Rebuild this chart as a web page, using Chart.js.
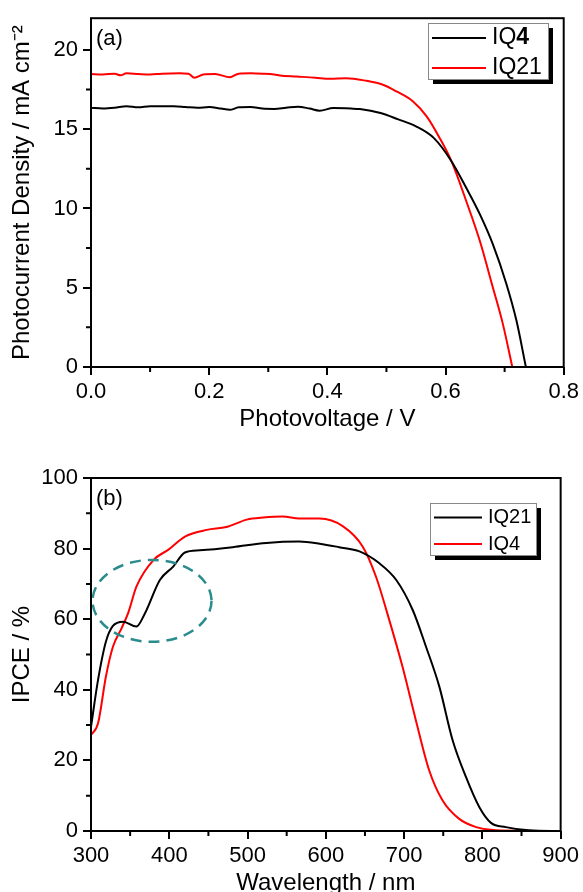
<!DOCTYPE html>
<html>
<head>
<meta charset="utf-8">
<title>IQ4 / IQ21</title>
<script src="https://cdn.jsdelivr.net/npm/chart.js@4.4.1/dist/chart.umd.min.js"></script>
<style>
html, body { margin: 0; padding: 0; background: #fff; overflow: hidden; width: 583px; height: 892px; }
.panel { position: absolute; left: 0; width: 583px; }
#wrapA { top: 0; height: 440px; }
#wrapB { top: 440px; height: 465px; }
</style>
</head>
<body>
<div class="panel" id="wrapA"><canvas id="chartA" width="583" height="440"></canvas></div>
<div class="panel" id="wrapB"><canvas id="chartB" width="583" height="465"></canvas></div>
<script>
// (a) J-V curves
var voltageIQ4 = [0, 0.02, 0.04, 0.06, 0.08, 0.10, 0.12, 0.14, 0.16, 0.18, 0.20, 0.22, 0.235, 0.25, 0.27, 0.29, 0.31, 0.33, 0.35, 0.37, 0.387, 0.41, 0.44, 0.455, 0.49, 0.52, 0.55, 0.58, 0.61, 0.635, 0.658, 0.68, 0.703, 0.72, 0.736];
var currentIQ4 = [16.35, 16.3, 16.35, 16.45, 16.38, 16.45, 16.45, 16.45, 16.4, 16.35, 16.4, 16.3, 16.22, 16.38, 16.4, 16.3, 16.28, 16.35, 16.42, 16.3, 16.17, 16.33, 16.3, 16.27, 16.02, 15.62, 15.18, 14.45, 12.98, 11.3, 9.64, 7.75, 5.24, 2.93, 0];
var voltageIQ21 = [0, 0.02, 0.04, 0.05, 0.06, 0.08, 0.10, 0.12, 0.15, 0.165, 0.175, 0.19, 0.21, 0.235, 0.25, 0.27, 0.29, 0.31, 0.32, 0.348, 0.38, 0.404, 0.432, 0.466, 0.494, 0.517, 0.545, 0.568, 0.59, 0.61, 0.635, 0.658, 0.68, 0.697, 0.713];
var currentIQ21 = [18.48, 18.45, 18.5, 18.4, 18.52, 18.48, 18.45, 18.5, 18.52, 18.5, 18.25, 18.45, 18.48, 18.28, 18.5, 18.52, 18.5, 18.45, 18.38, 18.32, 18.25, 18.18, 18.22, 18.05, 17.8, 17.38, 16.75, 15.81, 14.45, 12.98, 10.47, 7.96, 5.03, 2.72, 0];
var voltTicks = [0, 0.2, 0.4, 0.6, 0.8];
var currentTicks = [0, 5, 10, 15, 20];

// (b) IPCE spectra
var wlIQ21 = [300, 309, 319, 328, 341, 358, 369, 388, 405, 420, 439, 481, 524, 566, 592, 617, 643, 668, 690, 711, 728, 745, 762, 779, 796, 811, 830, 859, 900];
var ipceIQ21 = [29.5, 42.8, 53.6, 58.1, 59.3, 57.9, 61.7, 71.1, 74.9, 78.9, 79.5, 80.4, 81.6, 82.0, 81.4, 80.4, 79.2, 75.9, 71.1, 62.6, 52.2, 40.9, 25.7, 15.3, 6.8, 2.3, 1.1, 0.2, 0];
var wlIQ4 = [300, 309, 319, 328, 339, 348, 358, 380, 399, 420, 448, 473, 499, 520, 545, 566, 592, 622, 647, 664, 681, 698, 715, 732, 749, 770, 792, 817, 900];
var ipceIQ4 = [27.2, 30.5, 43.7, 52.2, 57.4, 62.1, 69.2, 76.8, 79.7, 83.4, 85.3, 86.1, 88.2, 88.8, 89.1, 88.5, 88.5, 86.3, 80.6, 72.1, 59.8, 46.5, 31.4, 17.2, 8.7, 3.5, 1.1, 0.2, 0];
var wlTicks = [300, 400, 500, 600, 700, 800, 900];
var ipceTicks = [0, 20, 40, 60, 80, 100];

var FONT = '"Liberation Sans", Arial, sans-serif';
Chart.defaults.font.family = FONT;
Chart.defaults.color = '#000';

function pts(xs, ys) {
  return xs.map(function (x, i) { return { x: x, y: ys[i] }; });
}

function series(label, xs, ys, color) {
  return {
    label: label, data: pts(xs, ys), borderColor: color, backgroundColor: color,
    borderWidth: 2, pointRadius: 0, fill: false, cubicInterpolationMode: 'monotone'
  };
}

// frame, minor ticks, panel tag, legend box with shadow, dashed ellipse
var decor = {
  id: 'decor',
  afterDatasetsDraw: function (chart, args, o) {
    var ctx = chart.ctx, a = chart.chartArea, sx = chart.scales.x, sy = chart.scales.y;
    ctx.save();
    if (o.ellipse) {
      var e = o.ellipse;
      var cx = sx.getPixelForValue(e.x), cy = sy.getPixelForValue(e.y);
      var rx = sx.getPixelForValue(e.x + e.rx) - cx, ry = cy - sy.getPixelForValue(e.y + e.ry);
      ctx.beginPath();
      ctx.setLineDash([11, 7]);
      ctx.strokeStyle = e.color;
      ctx.lineWidth = 2.5;
      ctx.ellipse(cx, cy, rx, ry, 0, 0, Math.PI * 2);
      ctx.stroke();
      ctx.setLineDash([]);
    }
    ctx.strokeStyle = '#000';
    ctx.lineWidth = 2;
    ctx.strokeRect(a.left, a.top, a.right - a.left, a.bottom - a.top);
    // minor ticks halfway between majors
    ctx.beginPath();
    for (var i = 0; i < sx.ticks.length - 1; i++) {
      var px = sx.getPixelForValue((sx.ticks[i].value + sx.ticks[i + 1].value) / 2);
      ctx.moveTo(px, a.bottom); ctx.lineTo(px, a.bottom + 5);
    }
    for (var j = 0; j < sy.ticks.length - 1; j++) {
      var py = sy.getPixelForValue((sy.ticks[j].value + sy.ticks[j + 1].value) / 2);
      ctx.moveTo(a.left - 5, py); ctx.lineTo(a.left, py);
    }
    ctx.stroke();
    // panel tag
    ctx.fillStyle = '#000';
    ctx.font = '22px ' + FONT;
    ctx.textBaseline = 'alphabetic';
    ctx.textAlign = 'left';
    ctx.fillText(o.tag, a.left + 5, a.top + 27);
    // legend
    var lg = o.legend;
    ctx.fillStyle = '#000';
    ctx.fillRect(lg.x + 5, lg.y + 5, lg.w, lg.h);
    ctx.fillStyle = '#fff';
    ctx.fillRect(lg.x, lg.y, lg.w, lg.h);
    ctx.strokeStyle = '#888';
    ctx.lineWidth = 1;
    ctx.strokeRect(lg.x + 0.5, lg.y + 0.5, lg.w, lg.h);
    chart.data.datasets.forEach(function (ds, k) {
      var y = lg.rows[k];
      ctx.strokeStyle = ds.borderColor;
      ctx.lineWidth = 2;
      ctx.beginPath();
      ctx.moveTo(lg.x + 4, y); ctx.lineTo(lg.x + lg.line, y);
      ctx.stroke();
      var nb = (lg.boldTail && lg.boldTail[k]) || 0;
      var head = ds.label.slice(0, ds.label.length - nb), tail = ds.label.slice(ds.label.length - nb);
      ctx.fillStyle = '#000';
      ctx.textBaseline = 'middle';
      ctx.font = lg.size + 'px ' + FONT;
      ctx.fillText(head, lg.tx, y);
      if (tail) {
        var w = ctx.measureText(head).width;
        ctx.font = 'bold ' + lg.size + 'px ' + FONT;
        ctx.fillText(tail, lg.tx + w, y);
      }
    });
    ctx.restore();
  }
};

function axis(min, max, tickValues, fmt, title, fit, titlePad, isX) {
  return {
    type: 'linear', min: min, max: max,
    afterBuildTicks: function (s) { s.ticks = tickValues.map(function (v) { return { value: v }; }); },
    afterFit: function (s) { if (isX) { s.height = fit; } else { s.width = fit; } },
    ticks: { callback: fmt, font: { size: 22 }, color: '#000', padding: isX ? 4 : 5, maxRotation: 0, autoSkip: false },
    grid: { drawOnChartArea: false, drawTicks: true, tickLength: 8, color: '#000', lineWidth: 2 },
    border: { display: false },
    title: { display: true, text: title, font: { size: 24 }, color: '#000', padding: titlePad }
  };
}

new Chart(document.getElementById('chartA'), {
  type: 'line',
  data: {
    datasets: [
      series('IQ4', voltageIQ4, currentIQ4, '#000000'),
      series('IQ21', voltageIQ21, currentIQ21, '#ff0000')
    ]
  },
  options: {
    responsive: false, animation: false,
    layout: { padding: { top: 16, right: 19, left: 0, bottom: 0 } },
    plugins: {
      legend: { display: false }, tooltip: { enabled: false },
      decor: {
        tag: '(a)',
        legend: { x: 428, y: 23, w: 120, h: 56, rows: [38, 68], line: 58, tx: 492, size: 23, boldTail: [1, 0] }
      }
    },
    scales: {
      x: axis(0, 0.8, voltTicks, function (v) { return v.toFixed(1); }, 'Photovoltage / V', 73, { top: 0, bottom: 6 }, true),
      y: axis(0, 22, currentTicks, function (v) { return String(v); }, 'Photocurrent Density / mA cm\u207B\u00B2', 91, { top: 8, bottom: 0 }, false)
    }
  },
  plugins: [decor]
});

new Chart(document.getElementById('chartB'), {
  type: 'line',
  data: {
    datasets: [
      series('IQ21', wlIQ21, ipceIQ21, '#000000'),
      series('IQ4', wlIQ4, ipceIQ4, '#ff0000')
    ]
  },
  options: {
    responsive: false, animation: false,
    layout: { padding: { top: 38, right: 21, left: 0, bottom: 0 } },
    plugins: {
      legend: { display: false }, tooltip: { enabled: false },
      decor: {
        tag: '(b)',
        legend: { x: 430, y: 63, w: 106, h: 52, rows: [77.5, 104], line: 52, tx: 488, size: 20 },
        ellipse: { x: 378, y: 65.2, rx: 76, ry: 11.6, color: '#2a8c8c' }
      }
    },
    scales: {
      x: axis(300, 900, wlTicks, function (v) { return String(v); }, 'Wavelength / nm', 74, { top: 0, bottom: 7 }, true),
      y: axis(0, 100, ipceTicks, function (v) { return String(v); }, 'IPCE / %', 91, { top: 8, bottom: 0 }, false)
    }
  },
  plugins: [decor]
});
</script>
</body>
</html>
